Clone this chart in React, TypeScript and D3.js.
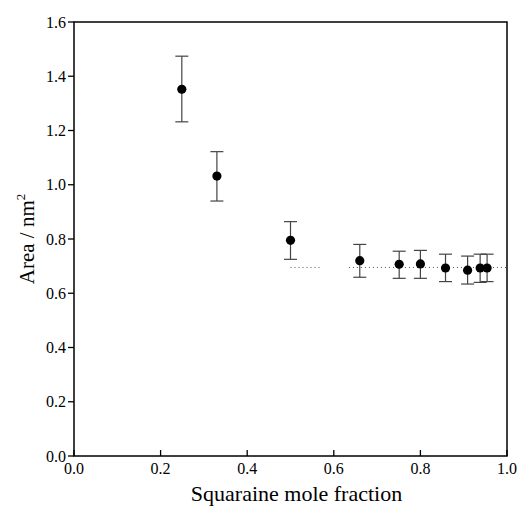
import * as d3 from 'd3';

// squaraine mole fraction vs. molecular area
const fraction = [0.249, 0.33, 0.5, 0.66, 0.751, 0.8, 0.858, 0.909, 0.938, 0.954];
const area = [1.352, 1.032, 0.795, 0.72, 0.707, 0.708, 0.693, 0.685, 0.693, 0.693];
const errUp = [1.474, 1.122, 0.864, 0.78, 0.755, 0.758, 0.744, 0.737, 0.744, 0.744];
const errDown = [1.232, 0.94, 0.725, 0.659, 0.655, 0.655, 0.643, 0.634, 0.64, 0.643];

// dotted reference level (two pieces as in the figure)
const refLevel = 0.695;
const refSegments = [[0.5, 0.57], [0.635, 1.0]];

const xTicks = [0, 0.2, 0.4, 0.6, 0.8, 1.0];
const yTicks = [0, 0.2, 0.4, 0.6, 0.8, 1.0, 1.2, 1.4, 1.6];

const width = 520;
const height = 514;
const margin = { left: 74, right: 13, top: 22, bottom: 58 };

const App = () => {
	const x = d3.scaleLinear([0, 1], [margin.left, width - margin.right]);
	const y = d3.scaleLinear([0, 1.6], [height - margin.bottom, margin.top]);
	const font = "'Liberation Serif', 'DejaVu Serif', serif";
	const x0 = x(0);
	const x1 = x(1);
	const y0 = y(0);
	const y1 = y(1.6);
	const cap = 6.5;

	return (
		<svg width={width} height={height} style={{ position: 'absolute', left: 0, top: 0, fontFamily: font }}>
			<rect x={0} y={0} width={width} height={height} fill="#fff" />

			{/* dotted level */}
			{refSegments.map(([a, b], i) => (
				<line key={i} x1={x(a)} x2={x(b)} y1={y(refLevel)} y2={y(refLevel)} stroke="#555" strokeWidth={1} strokeDasharray="1,3" />
			))}

			{/* error bars */}
			{fraction.map((f, i) => (
				<g key={i} stroke="#444" strokeWidth={1.2}>
					<line x1={x(f)} x2={x(f)} y1={y(errUp[i])} y2={y(errDown[i])} />
					<line x1={x(f) - cap} x2={x(f) + cap} y1={y(errUp[i])} y2={y(errUp[i])} />
					<line x1={x(f) - cap} x2={x(f) + cap} y1={y(errDown[i])} y2={y(errDown[i])} />
				</g>
			))}

			{/* points */}
			{fraction.map((f, i) => (
				<circle key={i} cx={x(f)} cy={y(area[i])} r={4.6} fill="#000" />
			))}

			{/* frame */}
			<rect x={x0} y={y1} width={x1 - x0} height={y0 - y1} fill="none" stroke="#000" strokeWidth={1.5} />

			{/* y axis */}
			{yTicks.map((t) => (
				<g key={t}>
					<line x1={x0 - 6} x2={x0} y1={y(t)} y2={y(t)} stroke="#000" strokeWidth={1.3} />
					<text x={x0 - 8} y={y(t)} dy="0.35em" textAnchor="end" fontSize={16}>
						{t.toFixed(1)}
					</text>
				</g>
			))}

			{/* x axis */}
			{xTicks.map((t) => (
				<g key={t}>
					<line x1={x(t)} x2={x(t)} y1={y0} y2={y0 - 6} stroke="#000" strokeWidth={1.3} />
					<text x={x(t)} y={y0 + 18} textAnchor="middle" fontSize={16}>
						{t.toFixed(1)}
					</text>
				</g>
			))}

			<text x={(x0 + x1) / 2 + 6} y={501} textAnchor="middle" fontSize={22}>
				Squaraine mole fraction
			</text>
			<text transform={`translate(34, ${(y0 + y1) / 2}) rotate(-90)`} textAnchor="middle" fontSize={21}>
				Area / nm<tspan fontSize={13} dy={-9}>2</tspan>
			</text>
		</svg>
	);
};

export default App;
